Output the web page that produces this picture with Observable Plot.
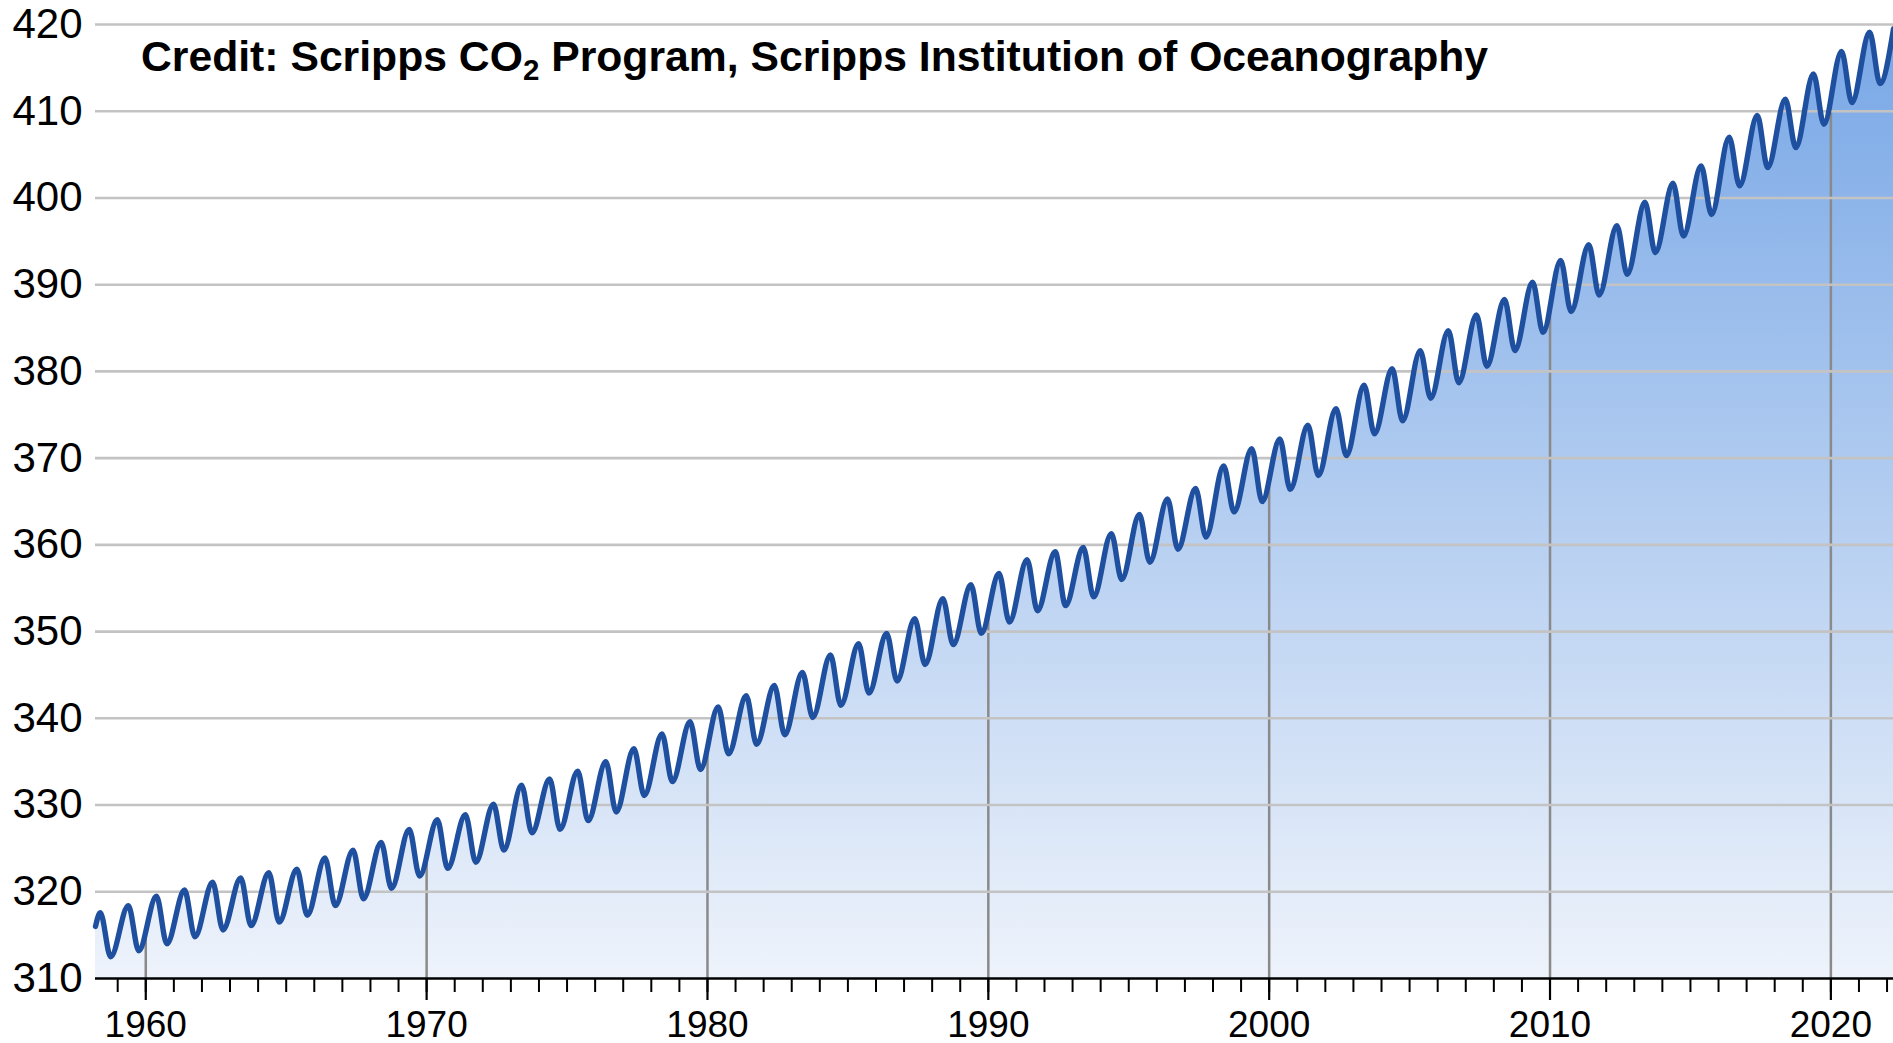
<!DOCTYPE html>
<html>
<head>
<meta charset="utf-8">
<script src="https://cdn.jsdelivr.net/npm/d3@7"></script>
<script src="https://cdn.jsdelivr.net/npm/@observablehq/plot@0.6"></script>
<style>
  html, body { margin: 0; padding: 0; background: #fff; }
  #chart svg { display: block; }
</style>
</head>
<body>
<div id="chart"></div>
<script>
// ---- Data (Mauna Loa CO2, ppm) ----
const years = d3.range(1958, 2022);           // 1958 … 2021
// seasonal maximum (around mid-May) for each year
const peakValues = [
  317.6, 318.4, 319.5, 320.2, 321.1, 321.6, 322.2, 322.6, 323.9, 324.8,
  325.7, 327.2, 328.3, 328.9, 330.1, 332.3, 333.0, 333.9, 335.0, 336.5,
  338.2, 339.6, 341.3, 342.6, 343.8, 345.3, 347.3, 348.6, 349.8, 351.5,
  353.8, 355.4, 356.7, 358.3, 359.2, 359.7, 361.3, 363.5, 365.3, 366.5,
  369.1, 371.1, 372.2, 373.8, 375.7, 378.4, 380.3, 382.4, 384.7, 386.5,
  388.3, 390.3, 392.8, 394.6, 396.8, 399.5, 401.7, 403.7, 407.0, 409.5,
  411.4, 414.3, 416.9, 419.1
];
// seasonal minimum (around end of September) for each year
const troughValues = [
  312.5, 313.2, 314.0, 314.8, 315.6, 316.1, 316.5, 317.3, 318.4, 319.2,
  320.4, 321.8, 322.7, 323.4, 324.8, 326.8, 327.2, 328.2, 329.2, 331.1,
  332.7, 334.1, 335.9, 337.0, 338.1, 340.1, 341.5, 342.9, 344.3, 346.2,
  348.5, 349.8, 351.1, 352.4, 353.0, 354.0, 356.0, 358.0, 359.5, 360.9,
  363.8, 365.0, 366.4, 368.0, 370.3, 372.8, 374.3, 376.9, 378.7, 380.6,
  382.4, 384.5, 386.9, 388.8, 391.2, 393.7, 395.6, 398.1, 401.4, 403.5,
  405.8, 408.5, 411.0, 413.2
];
const peakOffset = 0.38;    // fraction of year for the May maximum
const troughOffset = 0.75;  // fraction of year for the autumn minimum
const edgeDates = [1958.21, 2022.23];   // first and last record
const edgeValues = [316.0, 419.5];
const yTicks = d3.range(310, 421, 10);
const decadeTicks = [1960, 1970, 1980, 1990, 2000, 2010, 2020];
const yearTicks = d3.range(1959, 2023);
const creditText = ["Credit: Scripps CO", "2", " Program, Scripps Institution of Oceanography"];

// ---- Build the series ----
const series = [{date: edgeDates[0], co2: edgeValues[0]}];
years.forEach((y, i) => {
  series.push({date: y + peakOffset, co2: peakValues[i]});
  series.push({date: y + troughOffset, co2: troughValues[i]});
});
series.push({date: edgeDates[1], co2: edgeValues[1]});

const FONT = "'Liberation Sans', Arial, Helvetica, sans-serif";
const NS = "http://www.w3.org/2000/svg";

function gradientDefs() {
  const defs = document.createElementNS(NS, "defs");
  const lg = document.createElementNS(NS, "linearGradient");
  lg.setAttribute("id", "co2fill");
  lg.setAttribute("x1", "0"); lg.setAttribute("y1", "1");
  lg.setAttribute("x2", "0"); lg.setAttribute("y2", "0");
  [["0", "#eef3fb"], ["1", "#78a7e6"]].forEach(([o, c]) => {
    const s = document.createElementNS(NS, "stop");
    s.setAttribute("offset", o); s.setAttribute("stop-color", c);
    lg.appendChild(s);
  });
  defs.appendChild(lg);
  return defs;
}

function creditMark() {
  const t = document.createElementNS(NS, "text");
  t.setAttribute("x", 141);
  t.setAttribute("y", 71);
  t.setAttribute("text-anchor", "start");
  t.setAttribute("font-family", FONT);
  t.setAttribute("font-weight", "bold");
  t.setAttribute("font-size", 42.7);
  t.setAttribute("fill", "#000");
  const a = document.createElementNS(NS, "tspan"); a.textContent = creditText[0];
  const b = document.createElementNS(NS, "tspan"); b.textContent = creditText[1];
  b.setAttribute("font-size", 29.5); b.setAttribute("dy", 9);
  const c = document.createElementNS(NS, "tspan"); c.textContent = creditText[2];
  c.setAttribute("dy", -9);
  t.appendChild(a); t.appendChild(b); t.appendChild(c);
  return t;
}

const chart = Plot.plot({
  width: 1893,
  height: 1043,
  marginLeft: 95,
  marginRight: 0,
  marginTop: 24,
  marginBottom: 65,
  style: {fontFamily: FONT, background: "#fff", color: "#000"},
  x: {type: "linear", domain: edgeDates},
  y: {domain: [310, 420]},
  marks: [
    gradientDefs,
    Plot.areaY(series, {x: "date", y1: 310, y2: "co2", fill: "url(#co2fill)", curve: "monotone-x"}),
    Plot.ruleX(decadeTicks, {stroke: "#8a8a8a", strokeWidth: 2.5}),
    Plot.areaY(series, {x: "date", y1: "co2", y2: 420, fill: "#fff", curve: "monotone-x"}),
    Plot.ruleY(yTicks.filter(d => d > 310), {stroke: "#c3c3c3", strokeWidth: 2.6}),
    Plot.line(series, {x: "date", y: "co2", stroke: "#1f4f9f", strokeWidth: 5.4, curve: "monotone-x", strokeLinejoin: "round"}),
    Plot.ruleY([310], {stroke: "#000", strokeWidth: 2.5}),
    Plot.axisY({ticks: yTicks, tickSize: 0, tickPadding: 13, fontSize: 42, tickFormat: d => String(d), label: null}),
    Plot.axisX({ticks: yearTicks, tickSize: 14, tickFormat: () => "", strokeWidth: 2, label: null}),
    Plot.axisX({ticks: decadeTicks, tickSize: 22, tickPadding: 10, fontSize: 37, tickFormat: d => String(d), strokeWidth: 2.2, label: null}),
    creditMark
  ]
});
document.getElementById("chart").appendChild(chart);
</script>
</body>
</html>
